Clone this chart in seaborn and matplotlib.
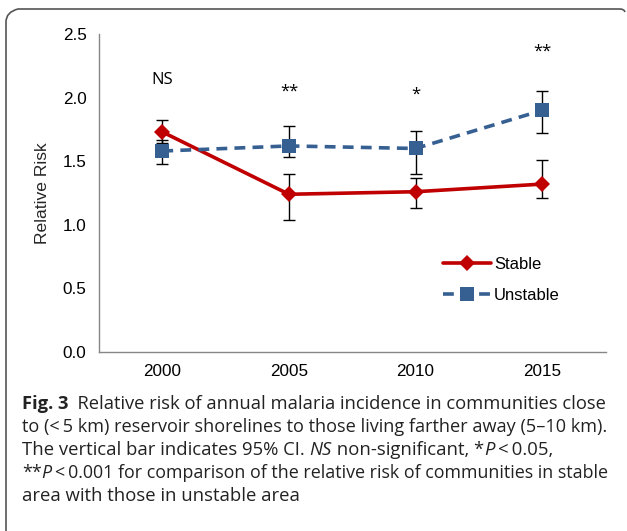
import matplotlib
matplotlib.use("Agg")
import matplotlib.pyplot as plt
from matplotlib.lines import Line2D
from matplotlib.path import Path
from matplotlib.patches import PathPatch
import seaborn as sns
import pandas as pd

years = ["2000", "2005", "2010", "2015"]
stable = [1.73, 1.24, 1.26, 1.32]
stable_lo = [1.64, 1.04, 1.13, 1.21]
stable_hi = [1.82, 1.40, 1.37, 1.51]
unstable = [1.58, 1.62, 1.60, 1.90]
unstable_lo = [1.48, 1.53, 1.40, 1.72]
unstable_hi = [1.67, 1.78, 1.74, 2.05]
sig_marks = ["NS", "**", "*", "**"]
sig_y = [2.14, 2.05, 2.02, 2.36]

RED = "#C00000"
BLUE = "#376092"
AXIS_FONT = ["Liberation Sans", "DejaVu Sans"]
CAP_FONT = ["Open Sans", "DejaVu Sans"]
CAP_SIZE = 13.3

sns.set_style("white")
plt.rcParams["font.family"] = AXIS_FONT
plt.rcParams["text.color"] = "black"
plt.rcParams["xtick.color"] = "black"
plt.rcParams["ytick.color"] = "black"

df = pd.DataFrame({
    "year": years * 2,
    "rr": stable + unstable,
    "area": ["Stable"] * 4 + ["Unstable"] * 4,
})

W, H = 627, 531
fig = plt.figure(figsize=(W / 100, H / 100), dpi=100)
ax = fig.add_axes([99 / W, 1 - 352 / H, (605.5 - 99) / W, (352 - 34) / H])

# 95% CI bars
pos = list(range(len(years)))
for vals, lo, hi in [(stable, stable_lo, stable_hi), (unstable, unstable_lo, unstable_hi)]:
    err = [[v - l for v, l in zip(vals, lo)], [h - v for v, h in zip(vals, hi)]]
    ax.errorbar(pos, vals, yerr=err, fmt="none", ecolor="black",
                elinewidth=1, capsize=4, capthick=1, zorder=1)

sns.lineplot(data=df, x="year", y="rr", hue="area", style="area",
             palette={"Stable": RED, "Unstable": BLUE},
             markers={"Stable": "D", "Unstable": "s"},
             dashes={"Stable": "", "Unstable": (3, 2)},
             linewidth=2.6, markersize=8, markeredgewidth=0,
             ax=ax, legend=False, zorder=2)
for ln in ax.lines:
    if ln.get_marker() == "s":
        ln.set_markersize(10)

for p, m, y in zip(pos, sig_marks, sig_y):
    ax.text(p, y, m, ha="center", va="center", fontsize=12,
            family=CAP_FONT, color="black")

ax.set_xlim(-0.5, len(years) - 0.5)
ax.set_ylim(0, 2.5)
ax.set_yticks([0, 0.5, 1.0, 1.5, 2.0, 2.5])
ax.set_yticklabels([f"{v:.1f}" for v in [0, 0.5, 1.0, 1.5, 2.0, 2.5]])
ax.set_xticks(pos)
ax.set_xticklabels(years)
ax.set_xticks([p - 0.5 for p in range(len(years) + 1)], minor=True)
ax.tick_params(axis="x", which="major", length=0, pad=9, labelsize=12.3)
ax.tick_params(axis="x", which="minor", length=5, color="#868686", width=1, direction="out")
ax.tick_params(axis="y", length=5, color="#868686", width=1, direction="out", pad=4, labelsize=12.3)
ax.set_xlabel("")
ax.set_ylabel("Relative Risk", fontsize=12.6, labelpad=9)
for s in ["top", "right"]:
    ax.spines[s].set_visible(False)
for s in ["left", "bottom"]:
    ax.spines[s].set_color("#868686")
    ax.spines[s].set_linewidth(1)

handles = [
    Line2D([], [], color=RED, lw=2.6, marker="D", markersize=8, markeredgewidth=0),
    Line2D([], [], color=BLUE, lw=2.6, marker="s", markersize=10, markeredgewidth=0,
           dashes=(3, 2)),
]
fig.legend(handles, ["Stable", "Unstable"], loc="upper left",
           bbox_to_anchor=(428 / W, 1 - 242 / H), frameon=False,
           fontsize=12, handlelength=2.9, handletextpad=0.15, labelspacing=0.95)

# caption with mixed styles
renderer = fig.canvas.get_renderer()


def seg_width(txt, size, **kw):
    a = fig.text(0, 0, "|" + txt + "|", fontsize=size, family=CAP_FONT, **kw)
    b = fig.text(0, 0, "||", fontsize=size, family=CAP_FONT, **kw)
    w = a.get_window_extent(renderer).width - b.get_window_extent(renderer).width
    a.remove()
    b.remove()
    return w


def rich_line(x, y, parts, right=None):
    size = CAP_SIZE
    if right is not None:
        total = sum(seg_width(t, size, **kw) for t, kw in parts)
        size = min(size, size * (right - x) / total)
    for txt, kw in parts:
        fig.text(x / W, 1 - y / H, txt, fontsize=size, family=CAP_FONT,
                 color="#222222", va="baseline", **kw)
        x += seg_width(txt, size, **kw)


N = {}
B = {"weight": "bold"}
I = {"style": "italic"}
caption = [
    [("Fig. 3", B), ("  Relative risk of annual malaria incidence in communities close", N)],
    [("to (<\u20095 km) reservoir shorelines to those living farther away (5\u201310 km).", N)],
    [("The vertical bar indicates 95% CI. ", N), ("NS", I), (" non-significant, *", N),
     ("P", I), ("\u2009<\u20090.05,", N)],
    [("**", N), ("P", I), ("\u2009<\u20090.001 for comparison of the relative risk of communities in stable", N)],
    [("area with those in unstable area", N)],
]
line_ends = [609, 611, None, 612, None]
for i, parts in enumerate(caption):
    rich_line(22, 409 + 23 * i, parts, line_ends[i])

# partial rounded frame (left and top edges)
verts = [(6, H), (6, 22), (6, 12), (18, 9), (620, 9), (624, 9), (625, 12)]
codes = [Path.MOVETO, Path.LINETO, Path.CURVE3, Path.CURVE3, Path.LINETO, Path.CURVE3, Path.CURVE3]
fig_verts = [(vx / W, 1 - vy / H) for vx, vy in verts]
fig.patches.append(PathPatch(Path(fig_verts, codes), transform=fig.transFigure,
                             fill=False, edgecolor="#555555", lw=1.2))

fig.savefig("out.png", dpi=100)
